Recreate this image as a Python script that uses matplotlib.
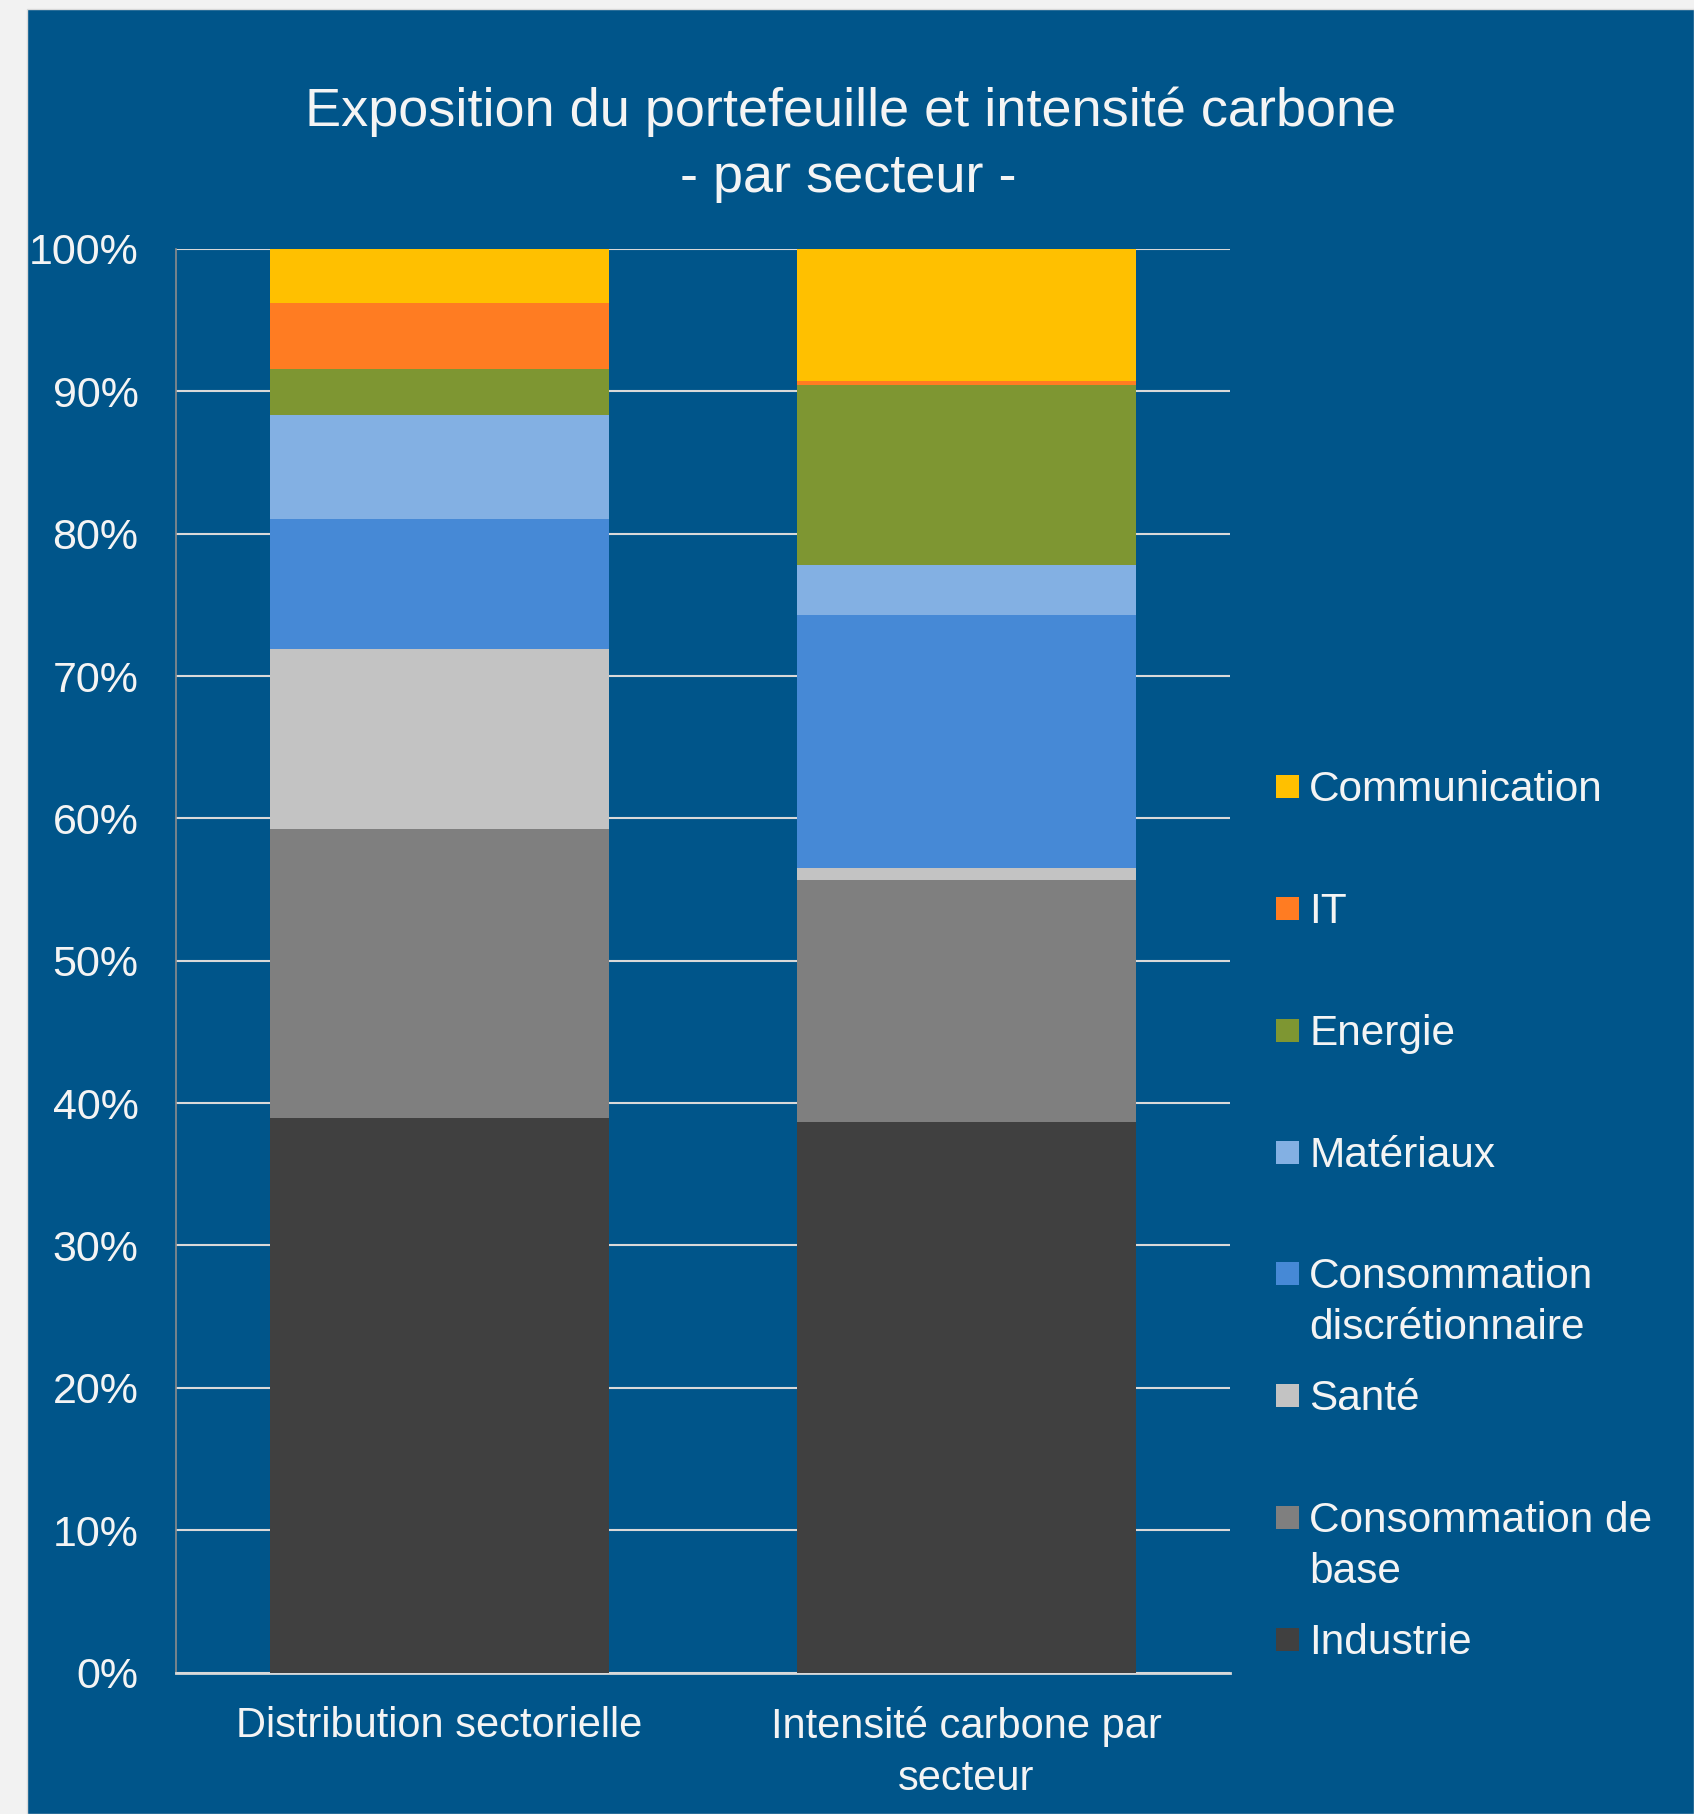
import matplotlib
matplotlib.use("Agg")
import matplotlib.pyplot as plt
from matplotlib.patches import Rectangle
import numpy as np

plt.rcParams['font.family'] = ['Liberation Sans', 'DejaVu Sans']

# ---- data ----
categories = ["Distribution sectorielle", "Intensité carbone par\nsecteur"]
sectors = ["Industrie", "Consommation de\nbase", "Santé",
           "Consommation\ndiscrétionnaire", "Matériaux", "Energie", "IT",
           "Communication"]
distribution = [38.95, 20.31, 12.66, 9.11, 7.33, 3.21, 4.63, 3.80]
intensite = [38.67, 16.98, 0.87, 17.77, 3.53, 12.60, 0.31, 9.27]
colors = ["#404040", "#7F7F7F", "#C3C3C3", "#4689D6", "#83B0E3",
          "#7E9632", "#FF7C22", "#FFC000"]
yticks = [0, 10, 20, 30, 40, 50, 60, 70, 80, 90, 100]
title_lines = ["Exposition du portefeuille et intensité carbone",
               "- par secteur -"]

W, H = 1694, 1814
BG = "#00558A"
TXT = "#F4F4F4"

fig = plt.figure(figsize=(W / 100, H / 100), dpi=100, facecolor="#F2F2F2")

def fx(px):
    return px / W

def fy(py):
    return 1 - py / H

# blue panel
fig.add_artist(Rectangle((fx(27), 0), 1 - fx(27), fy(9), transform=fig.transFigure,
                         facecolor=BG, edgecolor="#D9D9D9", linewidth=1.0, zorder=0))

ax = fig.add_axes([fx(176), fy(1672.5), fx(1230) - fx(176), fy(249) - fy(1672.5)])
ax.set_facecolor(BG)
ax.patch.set_alpha(0)

x = np.arange(len(categories))
series = np.array([distribution, intensite]).T  # sectors x categories
bottom = np.zeros(len(categories))
for i, name in enumerate(sectors):
    ax.bar(x, series[i], 0.643, bottom=bottom, color=colors[i],
           linewidth=0, zorder=3)
    bottom += series[i]

ax.set_xlim(-0.5, 1.5)
ax.set_ylim(0, 100)
ax.set_yticks(yticks)
ax.set_yticklabels([f"{v}%" for v in yticks], color=TXT, fontsize=31)
ax.set_xticks(x)
ax.set_xticklabels(categories, color=TXT, fontsize=30, linespacing=1.38)
ax.tick_params(axis='y', length=0, pad=27)
ax.tick_params(axis='x', length=0, pad=24)
ax.grid(axis='y', color="#D9D9D9", linewidth=1.5, zorder=1)
ax.set_axisbelow(True)
for s in ["top", "right"]:
    ax.spines[s].set_visible(False)
ax.spines["left"].set_color("#8C8C8C")
ax.spines["left"].set_linewidth(1.2)
ax.spines["bottom"].set_color("#D9D9D9")
ax.spines["bottom"].set_linewidth(2)

# title
fig.text(fx(851), fy(125.7), title_lines[0], ha="center", va="baseline",
         color=TXT, fontsize=39)
fig.text(fx(848), fy(191.7), title_lines[1], ha="center", va="baseline",
         color=TXT, fontsize=39)

# legend (top to bottom: reversed series order)
centers = [786, 908, 1030, 1152, 1273, 1395, 1517, 1639]
for c, name, col in zip(centers, sectors[::-1], colors[::-1]):
    fig.add_artist(Rectangle((fx(1276), fy(c + 11.5)), fx(23), 23 / H,
                             transform=fig.transFigure, facecolor=col,
                             linewidth=0))
    lines = name.split("\n")
    for k, ln in enumerate(lines):
        fig.text(fx(1309), fy(c + 15 + 51 * k), ln, ha="left", va="baseline",
                 color=TXT, fontsize=30.5)

fig.savefig("out.png", dpi=100, facecolor=fig.get_facecolor())
